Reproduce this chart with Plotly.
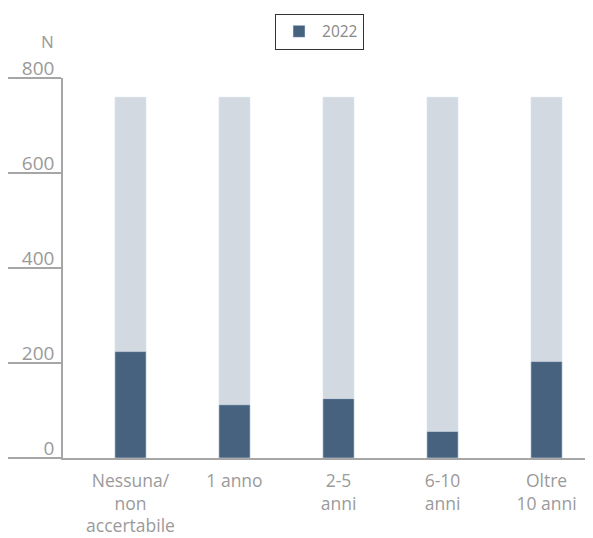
import plotly.graph_objects as go

# categories and values
categories = ["Nessuna/<br>non<br>accertabile", "1 anno", "2-5<br>anni", "6-10<br>anni", "Oltre<br>10 anni"]
values_2022 = [224, 112, 125, 56, 203]
background = [760, 760, 760, 760, 760]
y_ticks = [0, 200, 400, 600, 800]

dark = "#46627f"
light = "#d2d9e1"
grey = "#a6a6a6"
text_grey = "#9a9a9a"

fig = go.Figure()

# light grey backdrop bars
fig.add_trace(go.Bar(x=list(range(len(categories))), y=background,
                     marker_color=light, width=0.3, showlegend=False,
                     hoverinfo="skip"))

# 2022 values
fig.add_trace(go.Bar(x=list(range(len(categories))), y=values_2022,
                     marker_color=dark, width=0.3, name="2022"))

# the page body adds ~8px offset, margins compensate for it
fig.update_layout(
    width=593, height=538,
    barmode="overlay",
    plot_bgcolor="white", paper_bgcolor="white",
    margin=dict(l=55, r=8, t=69.5, b=87.5, autoexpand=False),
    font=dict(family="Open Sans", size=17.5, color=text_grey),
    legend=dict(orientation="h", x=0.484, xanchor="center", y=1.169, yanchor="top",
                bordercolor="#333333", borderwidth=1,
                font=dict(size=15.5, color="#888888"), itemwidth=36),
    annotations=[dict(text="N", xref="paper", yref="paper", x=-0.03, y=1.095,
                      xanchor="center", yanchor="middle", showarrow=False,
                      font=dict(size=17, color=text_grey))],
)

fig.update_xaxes(
    tickmode="array", tickvals=list(range(len(categories))), ticktext=categories,
    range=[-0.649, 4.447], showline=True, linecolor=grey, linewidth=1.5,
    ticks="", showgrid=False, zeroline=False, ticklabelstandoff=6,
)

fig.update_yaxes(
    range=[0, 800], tickvals=y_ticks, showline=True, linecolor=grey, linewidth=1.5,
    ticks="outside", ticklen=56, tickcolor=grey, tickwidth=1.5,
    showgrid=False, zeroline=False,
    ticklabelstandoff=-53, ticklabelshift=-10,
    tickfont=dict(size=19, color=text_grey),
)

fig.write_html("out.html")
